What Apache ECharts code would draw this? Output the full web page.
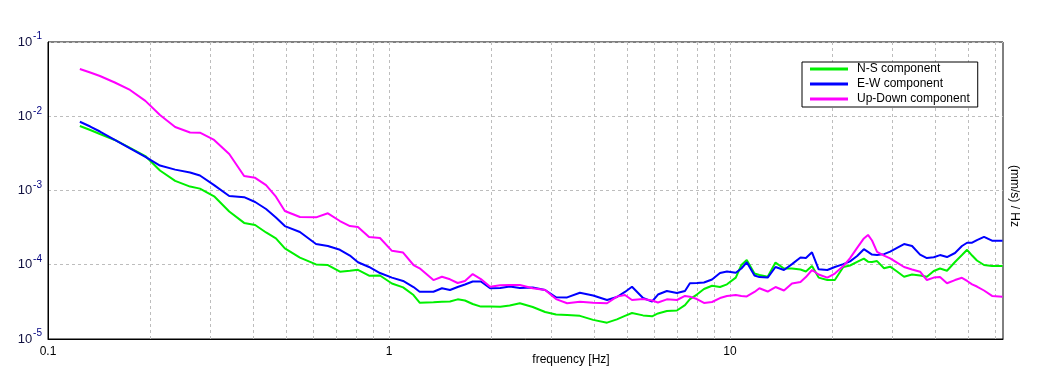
<!DOCTYPE html>
<html>
<head>
<meta charset="utf-8">
<script src="https://cdn.jsdelivr.net/npm/echarts@6/dist/echarts.min.js"></script>
<style>
html,body{margin:0;padding:0;background:#fff;}
#chart{width:1051px;height:382px;}
</style>
</head>
<body>
<div id="chart"></div>
<script>
const freq = [0.124,0.133,0.142,0.157,0.174,0.193,0.213,0.236,0.261,0.279,
0.307,0.340,0.376,0.405,0.436,0.466,0.495,0.548,0.611,0.662,
0.718,0.768,0.811,0.874,0.941,1.02,1.10,1.18,1.23,1.35,
1.43,1.51,1.59,1.67,1.76,1.86,1.98,2.12,2.26,2.42,
2.64,2.87,3.09,3.33,3.63,3.97,4.36,4.66,4.92,5.16,
5.56,5.91,6.15,6.53,6.99,7.38,7.63,8.00,8.39,8.86,
9.35,9.80,10.4,10.8,11.2,11.8,12.2,12.9,13.6,14.4,
15.2,16.1,16.7,17.4,18.2,19.3,20.3,21.5,22.5,23.6,
24.7,25.4,26.1,27.0,28.3,29.5,30.9,32.4,34.2,36.1,
37.8,39.6,41.3,43.3,45.7,47.9,49.6,51.3,53.0,55.6,
58.7,63.0];

const nsComponent = [7.38e-3,6.53e-3,5.77e-3,4.79e-3,3.74e-3,2.91e-3,1.86e-3,1.35e-3,1.13e-3,1.06e-3,
8.35e-4,5.21e-4,3.66e-4,3.43e-4,2.72e-4,2.27e-4,1.66e-4,1.25e-4,1.01e-4,9.92e-5,
8.06e-5,8.29e-5,8.55e-5,7.12e-5,7.16e-5,5.59e-5,4.96e-5,3.91e-5,3.08e-5,3.13e-5,
3.17e-5,3.20e-5,3.42e-5,3.30e-5,2.96e-5,2.73e-5,2.73e-5,2.72e-5,2.83e-5,3.03e-5,
2.70e-5,2.31e-5,2.14e-5,2.11e-5,2.05e-5,1.81e-5,1.66e-5,1.84e-5,2.05e-5,2.24e-5,
2.08e-5,2.02e-5,2.21e-5,2.38e-5,2.42e-5,2.86e-5,3.45e-5,3.97e-5,4.71e-5,5.22e-5,
5.01e-5,5.45e-5,6.71e-5,9.92e-5,1.16e-4,7.62e-5,7.27e-5,6.90e-5,1.07e-4,8.90e-5,
8.90e-5,8.63e-5,8.11e-5,9.61e-5,6.71e-5,6.22e-5,6.22e-5,9.33e-5,9.77e-5,1.09e-4,
1.21e-4,1.10e-4,1.09e-4,1.12e-4,8.96e-5,9.42e-5,8.11e-5,6.90e-5,7.38e-5,7.16e-5,
6.90e-5,8.24e-5,8.90e-5,8.31e-5,1.09e-4,1.35e-4,1.59e-4,1.33e-4,1.14e-4,9.92e-5,
9.61e-5,9.61e-5];

const ewComponent = [8.44e-3,7.27e-3,6.23e-3,4.79e-3,3.68e-3,2.83e-3,2.17e-3,1.91e-3,1.75e-3,1.59e-3,
1.18e-3,8.43e-4,8.13e-4,7.00e-4,5.63e-4,4.33e-4,3.32e-4,2.76e-4,1.90e-4,1.79e-4,
1.59e-4,1.33e-4,1.08e-4,9.33e-5,7.74e-5,6.71e-5,6.05e-5,5.01e-5,4.33e-5,4.33e-5,
4.82e-5,4.57e-5,5.01e-5,5.42e-5,5.95e-5,5.95e-5,4.82e-5,4.87e-5,5.09e-5,4.87e-5,
4.95e-5,4.57e-5,3.65e-5,3.63e-5,4.20e-5,3.86e-5,3.35e-5,3.68e-5,4.30e-5,5.06e-5,
3.56e-5,3.20e-5,3.97e-5,4.43e-5,4.16e-5,4.43e-5,5.63e-5,5.68e-5,5.77e-5,6.34e-5,
7.74e-5,8.11e-5,7.81e-5,8.90e-5,1.08e-4,7.16e-5,6.82e-5,6.71e-5,9.33e-5,8.50e-5,
1.02e-4,1.25e-4,1.23e-4,1.47e-4,8.69e-5,8.50e-5,9.33e-5,1.02e-4,1.11e-4,1.31e-4,
1.62e-4,1.49e-4,1.37e-4,1.35e-4,1.39e-4,1.50e-4,1.69e-4,1.90e-4,1.79e-4,1.37e-4,
1.23e-4,1.26e-4,1.35e-4,1.27e-4,1.44e-4,1.79e-4,1.98e-4,1.98e-4,2.15e-4,2.38e-4,
2.11e-4,2.11e-4];

const udComponent = [4.33e-2,3.88e-2,3.48e-2,2.85e-2,2.26e-2,1.61e-2,1.04e-2,7.16e-3,6.05e-3,6.0e-3,
4.79e-3,3.10e-3,1.57e-3,1.48e-3,1.18e-3,8.25e-4,5.30e-4,4.39e-4,4.35e-4,4.93e-4,
3.88e-4,3.32e-4,3.22e-4,2.36e-4,2.29e-4,1.54e-4,1.46e-4,9.92e-5,8.96e-5,6.22e-5,
6.90e-5,6.37e-5,5.68e-5,6.05e-5,7.50e-5,6.42e-5,5.06e-5,5.30e-5,5.34e-5,5.34e-5,
4.82e-5,4.57e-5,3.45e-5,3.03e-5,3.17e-5,3.08e-5,3.03e-5,3.72e-5,3.91e-5,3.35e-5,
3.45e-5,3.30e-5,3.10e-5,3.42e-5,3.35e-5,3.80e-5,3.72e-5,3.45e-5,3.06e-5,3.15e-5,
3.56e-5,3.80e-5,3.91e-5,3.80e-5,3.74e-5,4.30e-5,4.82e-5,4.36e-5,5.01e-5,4.50e-5,
5.59e-5,5.86e-5,6.82e-5,8.50e-5,7.38e-5,6.71e-5,7.62e-5,9.61e-5,1.23e-4,1.69e-4,
2.26e-4,2.52e-4,2.12e-4,1.49e-4,1.33e-4,1.22e-4,1.07e-4,9.33e-5,8.63e-5,8.06e-5,
6.22e-5,6.71e-5,6.82e-5,5.63e-5,6.22e-5,6.67e-5,6.05e-5,5.45e-5,5.09e-5,4.50e-5,
3.80e-5,3.72e-5];

const seriesNames = ['N-S component', 'E-W component', 'Up-Down component'];
const seriesColors = ['#00f000', '#0000ff', '#ff00ff'];
const xLabelTicks = [0.1, 1, 10];
const xGridLines = [0.2,0.3,0.4,0.5,0.6,0.7,0.8,0.9,1,2,3,4,5,6,7,8,9,10,20,30,40,50,60];
const xMin = 0.1, xMax = 63.2;
const yMin = 1e-5, yMax = 1e-1;

const FONT = 'Liberation Sans, Arial, sans-serif';
const chart = echarts.init(document.getElementById('chart'), null, {renderer: 'canvas'});

const allData = [nsComponent, ewComponent, udComponent];
const series = allData.map((arr, k) => ({
  name: seriesNames[k],
  type: 'line',
  data: freq.map((f, i) => [f, arr[i]]),
  showSymbol: false,
  symbol: 'none',
  smooth: false,
  lineStyle: {color: seriesColors[k], width: 2},
  itemStyle: {color: seriesColors[k]},
  z: 3 + k,
  animation: false
}));
series[0].markLine = {
  silent: true,
  symbol: ['none', 'none'],
  label: {show: false},
  lineStyle: {color: '#bdbdbd', type: [3, 3], width: 1},
  data: xGridLines.map(v => ({xAxis: v})),
  animation: false,
  z: 1
};

const option = {
  animation: false,
  backgroundColor: '#ffffff',
  textStyle: {fontFamily: FONT},
  grid: {left: 48, right: 48, top: 42, bottom: 43, show: true, borderColor: '#000', borderWidth: 1, backgroundColor: 'transparent'},
  legend: {
    orient: 'vertical',
    left: 802, top: 62,
    padding: [1, 8, 2, 8],
    itemGap: 3,
    itemWidth: 38,
    itemHeight: 3,
    icon: 'rect',
    borderColor: '#000', borderWidth: 1,
    backgroundColor: '#fff',
    textStyle: {fontSize: 12, fontFamily: FONT, color: '#000', lineHeight: 12, padding: [0, 0, 0, 4]},
    data: seriesNames
  },
  xAxis: {
    type: 'log', logBase: 10, min: xMin, max: xMax,
    axisLine: {show: true, lineStyle: {color: '#000', width: 1}},
    axisTick: {show: false},
    splitLine: {show: false},
    axisLabel: {
      customValues: xLabelTicks,
      fontSize: 12, fontFamily: FONT, color: '#000', margin: 7,
      formatter: v => String(v)
    }
  },
  yAxis: {
    type: 'log', logBase: 10, min: yMin, max: yMax,
    axisLine: {show: true, lineStyle: {color: '#000', width: 1}},
    axisTick: {show: false},
    splitLine: {show: true, lineStyle: {color: '#bdbdbd', type: [3, 3], width: 1}},
    axisLabel: {
      margin: 6,
      formatter: v => '{b|10}{s|' + Math.round(Math.log10(v)) + '}',
      rich: {
        b: {fontSize: 13, fontFamily: FONT, color: '#101040'},
        s: {fontSize: 10, fontFamily: FONT, color: '#000080', padding: [0, 0, 11, 1]}
      }
    }
  },
  graphic: [
    {type: 'text', x: 571, y: 360, z: 10,
      style: {text: 'frequency [Hz]', fontSize: 12, fontFamily: FONT, fill: '#000', align: 'center', verticalAlign: 'middle'}},
    {type: 'text', x: 1014, y: 196, rotation: -Math.PI / 2, z: 10,
      style: {text: '(mm/s) / Hz', fontSize: 12, fontFamily: FONT, fill: '#000', align: 'center', verticalAlign: 'middle'}}
  ],
  series: series
};
chart.setOption(option);
</script>
</body>
</html>
